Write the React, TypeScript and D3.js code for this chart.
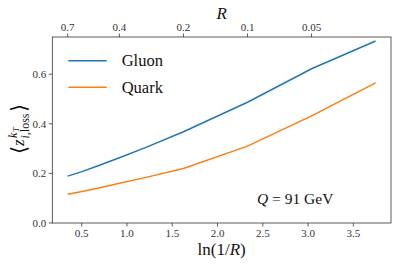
import React from "react";
import * as d3 from "d3";

// jet radius values and the matching curves
const radii = [0.7, 0.6, 0.5, 0.4, 0.3, 0.2, 0.1, 0.05, 0.025];
const gluon = [0.189, 0.207, 0.232, 0.263, 0.305, 0.368, 0.487, 0.622, 0.734];
const quark = [0.116, 0.127, 0.141, 0.16, 0.184, 0.22, 0.31, 0.432, 0.565];

const topTicks = [0.7, 0.4, 0.2, 0.1, 0.05];
const bottomTicks = [0.5, 1.0, 1.5, 2.0, 2.5, 3.0, 3.5];
const yTicks = [0.0, 0.2, 0.4, 0.6];

const series = [
  { name: "Gluon", values: gluon, color: "#1f77b4" },
  { name: "Quark", values: quark, color: "#ff7f0e" },
];

const FONT = "Liberation Serif, Times New Roman, DejaVu Serif, serif";

export default function App() {
  const width = 398;
  const height = 266;
  const margin = { top: 37, right: 7, bottom: 43, left: 52.3 };
  const x0 = margin.left;
  const x1 = width - margin.right;
  const y0 = height - margin.bottom;
  const y1 = margin.top;

  const lnR = radii.map((r) => Math.log(1 / r));
  const ext = d3.extent(lnR) as [number, number];
  const pad = (ext[1] - ext[0]) * 0.05;

  // data / top axis scale
  const x = d3.scaleLinear().domain([ext[0] - pad, ext[1] + pad]).range([x0, x1]);
  // bottom axis scale (slightly different limits in the original)
  const xb = d3.scaleLinear().domain([0.175, 3.916]).range([x0, x1]);
  const y = d3.scaleLinear().domain([0, 0.75]).range([y0, y1]);

  const line = d3
    .line<number>()
    .x((_, i) => x(lnR[i]))
    .y((d) => y(d));

  const axisColor = "#333";
  const tickLen = 3.5;

  return (
    <svg
      width={width}
      height={height}
      style={{ position: "absolute", left: 0, top: 0, background: "#fff", fontFamily: FONT }}
    >
      {/* lines */}
      {series.map((s) => (
        <path key={s.name} d={line(s.values) || ""} fill="none" stroke={s.color} strokeWidth={1.5} />
      ))}

      {/* frame */}
      <rect x={x0} y={y1} width={x1 - x0} height={y0 - y1} fill="none" stroke={axisColor} strokeWidth={0.8} />

      {/* bottom axis */}
      {bottomTicks.map((t) => (
        <g key={"b" + t}>
          <line x1={xb(t)} x2={xb(t)} y1={y0} y2={y0 + tickLen} stroke={axisColor} strokeWidth={0.8} />
          <text x={xb(t)} y={y0 + 13.5} textAnchor="middle" fontSize={11} fill="#333">
            {t.toFixed(1)}
          </text>
        </g>
      ))}
      <text x={(x0 + x1) / 2} y={255} textAnchor="middle" fontSize={17} fill="#111">
        ln(1/<tspan fontStyle="italic">R</tspan>)
      </text>

      {/* top axis */}
      {topTicks.map((r) => (
        <g key={"t" + r}>
          <line x1={x(Math.log(1 / r))} x2={x(Math.log(1 / r))} y1={y1} y2={y1 - tickLen} stroke={axisColor} strokeWidth={0.8} />
          <text x={x(Math.log(1 / r))} y={30.5} textAnchor="middle" fontSize={11} fill="#333">
            {String(r)}
          </text>
        </g>
      ))}
      <text x={(x0 + x1) / 2} y={19} textAnchor="middle" fontSize={17} fontStyle="italic" fill="#111">
        R
      </text>

      {/* left axis */}
      {yTicks.map((t) => (
        <g key={"y" + t}>
          <line x1={x0} x2={x0 - tickLen} y1={y(t)} y2={y(t)} stroke={axisColor} strokeWidth={0.8} />
          <text x={x0 - 6} y={y(t) + 3.8} textAnchor="end" fontSize={11} fill="#333">
            {t.toFixed(1)}
          </text>
        </g>
      ))}
      <g transform={`translate(24,${(y0 + y1) / 2}) rotate(-90)`} fill="#111">
        <text x={-24} y={1.5} fontSize={21}>⟨</text>
        <text x={-16} y={0} fontSize={17} fontStyle="italic">z</text>
        <text x={-8} y={-7.5} fontSize={12} fontStyle="italic">k</text>
        <text x={-2} y={-5.5} fontSize={8.5} fontStyle="italic">T</text>
        <text x={-8.5} y={4.5} fontSize={12}>
          <tspan fontStyle="italic">i</tspan>,loss
        </text>
        <text x={18} y={1.5} fontSize={21}>⟩</text>
      </g>

      {/* legend */}
      {series.map((s, i) => (
        <g key={"l" + s.name}>
          <line x1={68.3} x2={106.7} y1={60.7 + i * 26.6} y2={60.7 + i * 26.6} stroke={s.color} strokeWidth={1.5} />
          <text x={121.7} y={66.2 + i * 26.6} fontSize={16.5} fill="#111">
            {s.name}
          </text>
        </g>
      ))}

      {/* annotation */}
      <text x={257} y={204} fontSize={15.5} fill="#111">
        <tspan fontStyle="italic">Q</tspan> = 91 GeV
      </text>
    </svg>
  );
}
